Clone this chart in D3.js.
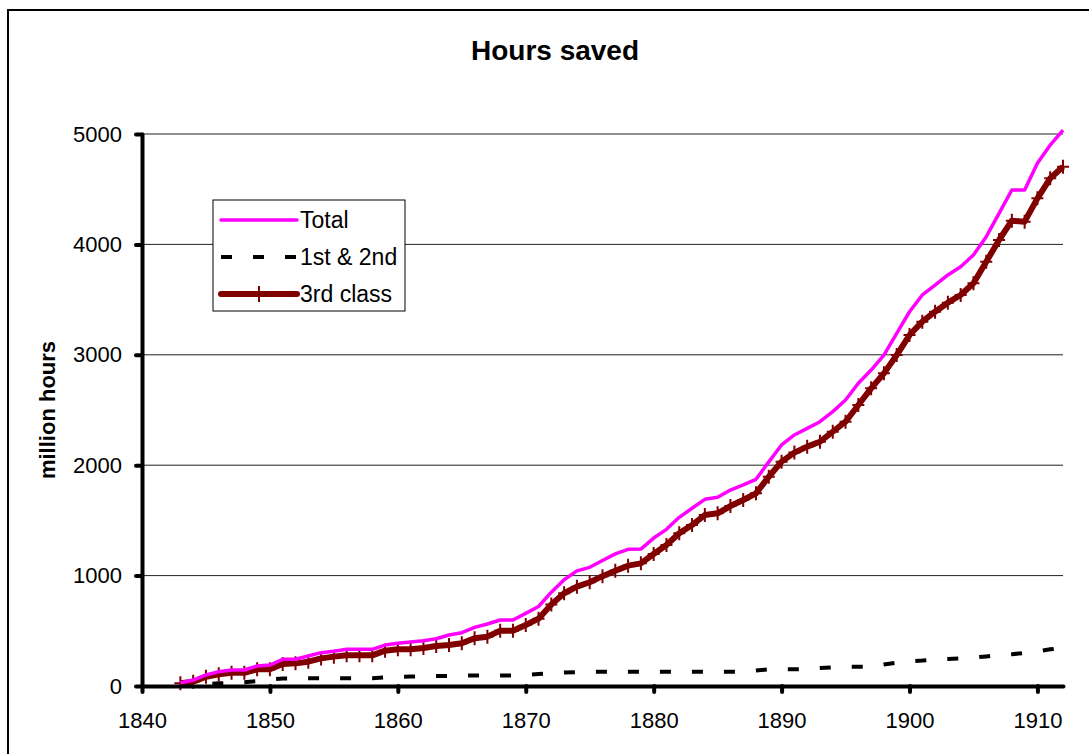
<!DOCTYPE html>
<html>
<head>
<meta charset="utf-8">
<script src="https://cdn.jsdelivr.net/npm/d3@7"></script>
<style>
  body { margin: 0; background: #fff; }
  svg { display: block; font-family: "Liberation Sans", Arial, sans-serif; }
</style>
</head>
<body>
<svg id="chart"></svg>
<script>
const YEARS = d3.range(1843, 1913);
const TOTAL = [
  28, 54, 100, 130, 145, 145, 181, 190, 242, 242,
  272, 302, 314, 332, 332, 332, 371, 387, 398, 410,
  428, 462, 483, 531, 562, 598, 598, 658, 720, 850,
  963, 1043, 1075, 1137, 1197, 1238, 1240, 1340, 1419, 1528,
  1610, 1691, 1709, 1775, 1821, 1872, 2030, 2183, 2274, 2334,
  2394, 2485, 2591, 2742, 2862, 2998, 3195, 3390, 3542, 3632,
  3723, 3798, 3904, 4070, 4281, 4493, 4493, 4734, 4900, 5036
];
const FIRST_SECOND = [
  5, 10, 18, 24, 28, 35, 45, 60, 68, 70,
  70, 70, 70, 70, 70, 70, 79, 84, 85, 88,
  90, 92, 94, 94, 94, 94, 94, 100, 109, 115,
  122, 126, 130, 130, 130, 130, 130, 130, 130, 130,
  130, 130, 130, 130, 130, 140, 150, 150, 152, 152,
  162, 168, 175, 175, 175, 195, 210, 225, 230, 238,
  245, 250, 258, 268, 278, 287, 300, 315, 332, 345
];
const THIRD = [
  24, 39, 84, 106, 120, 120, 151, 151, 199, 205,
  220, 250, 266, 278, 278, 278, 320, 332, 332, 344,
  362, 371, 387, 432, 447, 501, 501, 553, 610, 738,
  840, 900, 940, 995, 1043, 1090, 1111, 1196, 1277, 1383,
  1458, 1549, 1564, 1630, 1685, 1745, 1896, 2032, 2114, 2168,
  2213, 2303, 2394, 2545, 2696, 2832, 2998, 3179, 3300, 3390,
  3472, 3542, 3648, 3843, 4040, 4215, 4206, 4417, 4599, 4704
];
const X_TICKS = [1840, 1850, 1860, 1870, 1880, 1890, 1900, 1910];
const Y_TICKS = [0, 1000, 2000, 3000, 4000, 5000];

const width = 1089;
const height = 754;
const margin = { top: 134, right: 26, bottom: 68, left: 142 };

const x = d3
  .scaleLinear()
  .domain([1840, 1912])
  .range([margin.left, width - margin.right]);
const y = d3
  .scaleLinear()
  .domain([0, 5000])
  .range([height - margin.bottom, margin.top]);

const svg = d3
  .select("#chart")
  .attr("width", width)
  .attr("height", height)
  .attr("viewBox", [0, 0, width, height]);

// outer frame (runs off right and bottom edges)
svg
  .append("rect")
  .attr("x", 8)
  .attr("y", 10)
  .attr("width", 1200)
  .attr("height", 900)
  .attr("fill", "none")
  .attr("stroke", "#000")
  .attr("stroke-width", 2);

svg
  .append("text")
  .attr("x", 555)
  .attr("y", 60)
  .attr("text-anchor", "middle")
  .style("font-size", "28px")
  .style("font-weight", "bold")
  .text("Hours saved");

// gridlines
svg
  .append("g")
  .selectAll("line")
  .data(Y_TICKS.slice(1))
  .join("line")
  .attr("x1", margin.left)
  .attr("x2", width - margin.right)
  .attr("y1", (d) => y(d))
  .attr("y2", (d) => y(d))
  .attr("stroke", "#222")
  .attr("stroke-width", 1);

const xAxis = (g) =>
  g
    .attr("transform", `translate(0,${height - margin.bottom})`)
    .call(d3.axisBottom(x).tickValues(X_TICKS).tickFormat(d3.format("d")).tickSize(6).tickPadding(20).tickSizeOuter(0))
    .call((g) => g.select(".domain").attr("stroke-width", 4).attr("stroke-linecap", "round"))
    .call((g) => g.selectAll(".tick line").attr("stroke-width", 4).attr("stroke-linecap", "round"))
    .call((g) => g.selectAll(".tick text").style("font-size", "22px").attr("fill", "#000"));

const yAxis = (g) =>
  g
    .attr("transform", `translate(${margin.left},0)`)
    .call(d3.axisLeft(y).tickValues(Y_TICKS).tickFormat(d3.format("d")).tickSize(6).tickPadding(14).tickSizeOuter(0))
    .call((g) => g.select(".domain").attr("stroke-width", 4).attr("stroke-linecap", "round"))
    .call((g) => g.selectAll(".tick line").attr("stroke-width", 4).attr("stroke-linecap", "round"))
    .call((g) => g.selectAll(".tick text").style("font-size", "22px").attr("fill", "#000"));

svg
  .append("text")
  .attr("transform", `translate(55,${(y(0) + y(5000)) / 2}) rotate(-90)`)
  .attr("text-anchor", "middle")
  .style("font-size", "22px")
  .style("font-weight", "bold")
  .text("million hours");

const line = (vals) =>
  d3
    .line()
    .x((d, i) => x(YEARS[i]))
    .y((d) => y(d))(vals);

svg
  .append("path")
  .attr("d", line(FIRST_SECOND))
  .attr("fill", "none")
  .attr("stroke", "#000")
  .attr("stroke-width", 4)
  .attr("stroke-dasharray", "11,21");

svg
  .append("path")
  .attr("d", line(THIRD))
  .attr("fill", "none")
  .attr("stroke", "#800000")
  .attr("stroke-width", 6)
  .attr("stroke-linejoin", "round");

svg
  .append("g")
  .selectAll("path")
  .data(THIRD)
  .join("path")
  .attr("transform", (d, i) => `translate(${x(YEARS[i])},${y(d)})`)
  .attr("d", "M-6,0H6M0,-7V7")
  .attr("stroke", "#800000")
  .attr("stroke-width", 2);

svg
  .append("path")
  .attr("d", line(TOTAL))
  .attr("fill", "none")
  .attr("stroke", "#ff00ff")
  .attr("stroke-width", 3.5)
  .attr("stroke-linejoin", "round");

svg.append("g").call(xAxis);
svg.append("g").call(yAxis);

// legend
const legendItems = [
  { name: "Total", color: "#ff00ff", width: 3.5, dash: null, marker: false },
  { name: "1st & 2nd", color: "#000", width: 4, dash: "11,21", marker: false },
  { name: "3rd class", color: "#800000", width: 6, dash: null, marker: true },
];
const legend = svg.append("g").attr("transform", "translate(213,200)");
legend
  .append("rect")
  .attr("width", 192)
  .attr("height", 111)
  .attr("fill", "#fff")
  .attr("stroke", "#000")
  .attr("stroke-width", 1);
const item = legend
  .selectAll("g")
  .data(legendItems)
  .join("g")
  .attr("transform", (d, i) => `translate(0,${20 + i * 37})`);
item
  .append("line")
  .attr("x1", 8)
  .attr("x2", 84)
  .attr("stroke", (d) => d.color)
  .attr("stroke-width", (d) => d.width)
  .attr("stroke-dasharray", (d) => d.dash)
  .attr("stroke-linecap", (d) => (d.dash ? "butt" : "round"));
item
  .filter((d) => d.marker)
  .append("path")
  .attr("transform", "translate(46,0)")
  .attr("d", "M0,-8V8")
  .attr("stroke", "#800000")
  .attr("stroke-width", 2);
item
  .append("text")
  .attr("x", 87)
  .attr("dy", "0.35em")
  .style("font-size", "23px")
  .text((d) => d.name);
</script>
</body>
</html>
